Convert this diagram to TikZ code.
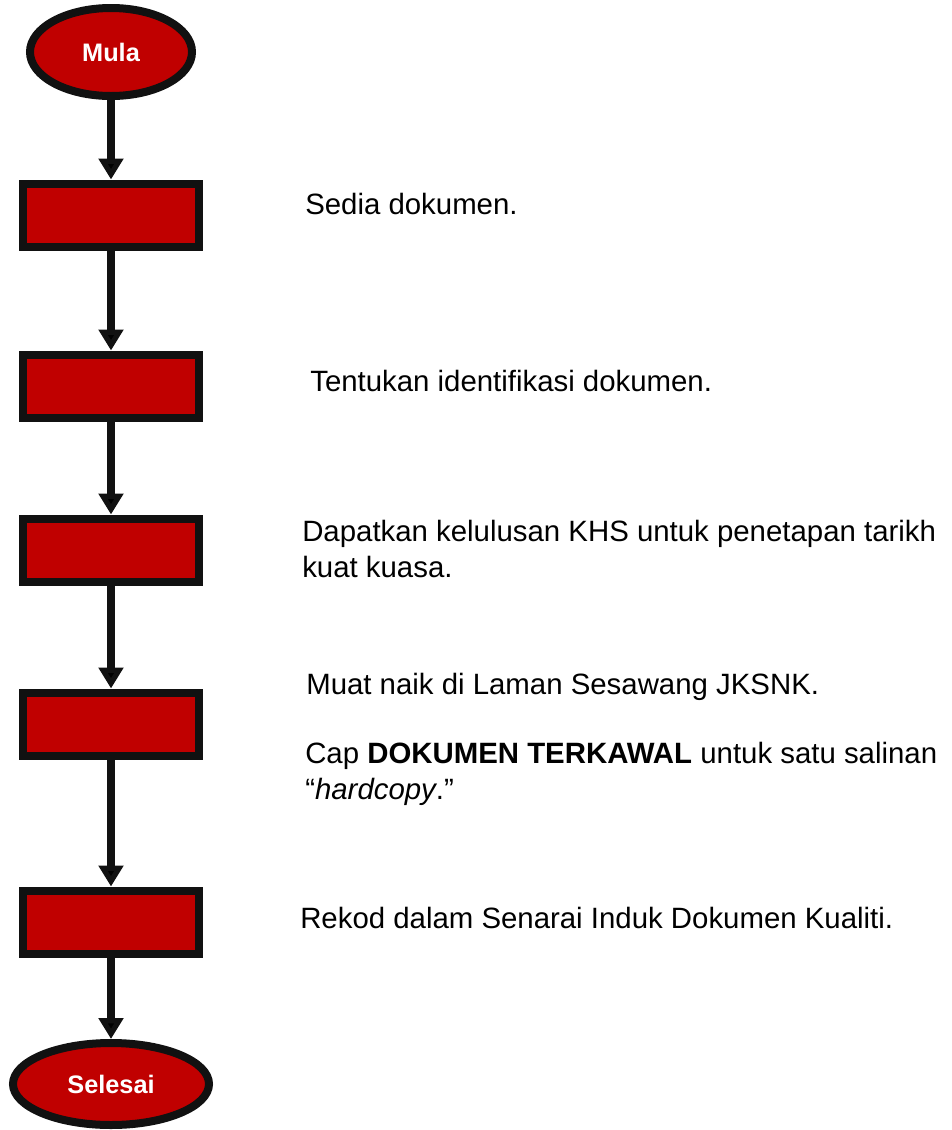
\documentclass[tikz,border=0pt]{standalone}
\usepackage{fontspec}
\setmainfont{Liberation Sans}
\usetikzlibrary{shapes.geometric,positioning,arrows.meta}

\definecolor{kotak}{HTML}{C00000}
\definecolor{garis}{HTML}{111111}

\begin{document}
\begin{tikzpicture}[on grid,
    terminal/.style={ellipse,draw=garis,fill=kotak,line width=0.2cm,inner sep=0pt,
        text=white,font=\fontsize{18}{20}\selectfont\bfseries},
    proses/.style={rectangle,draw=garis,fill=kotak,line width=0.2cm,
        minimum width=4.4cm,minimum height=1.575cm},
    teks/.style={anchor=base west,inner sep=0pt,align=left,
        font=\fontsize{20.9}{25}\selectfont}]
    \useasboundingbox (0,0) rectangle (23.775,-28.25);

    \node[terminal,minimum width=4.05cm,minimum height=2.2cm] (mula) at (2.775,-1.3) {Mula};
    \node[proses] (sedia) [below=4.075cm of mula] {};
    \node[proses] (tentu) [below=4.275cm of sedia] {};
    \node[proses] (lulus) [below=4.1cm of tentu] {};
    \node[proses] (muat) [below=4.35cm of lulus] {};
    \node[proses] (rekod) [below=4.95cm of muat] {};
    \node[terminal,minimum width=4.9cm,minimum height=2.05cm] (selesai) [below=4.05cm of rekod] {Selesai};

    % keterangan setiap langkah
    \node[teks] (tsedia) at (7.625,-5.35) {Sedia dokumen.};
    \node[teks] (ttentu) at (7.75,-9.775) {Tentukan identifikasi dokumen.};
    \node[teks] (tlulus) at (7.55,-14.425) {Dapatkan kelulusan KHS untuk penetapan tarikh\\kuat kuasa.};
    \node[teks] (tmuat) at (7.65,-17.35) {Muat naik di Laman Sesawang JKSNK.};
    \node[teks] (tcap) at (7.625,-19.975) {Cap \textbf{DOKUMEN TERKAWAL} untuk satu salinan\\``\textit{hardcopy}.''};
    \node[teks] (trekod) at (7.5,-23.2) {Rekod dalam Senarai Induk Dokumen Kualiti.};

    \path[-{Triangle[length=0.525cm,width=0.6cm]},draw=garis,line width=0.2cm]
        (mula) edge (sedia)
        (sedia) edge (tentu)
        (tentu) edge (lulus)
        (lulus) edge (muat)
        (muat) edge (rekod)
        (rekod) edge (selesai);
\end{tikzpicture}
\end{document}
